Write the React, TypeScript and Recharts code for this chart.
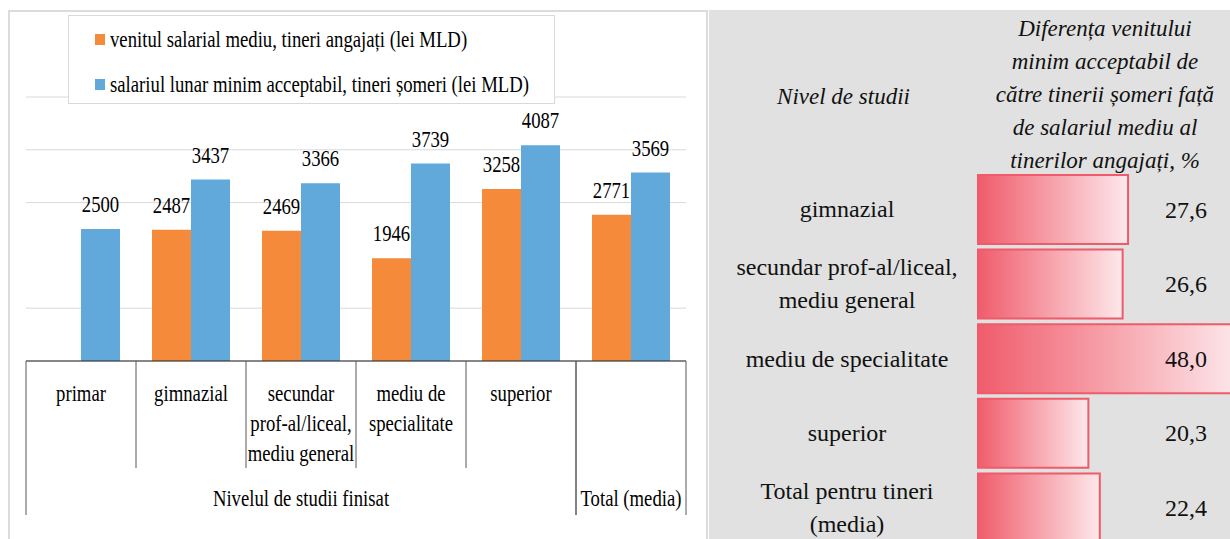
import { BarChart, Bar, XAxis, YAxis, CartesianGrid, LabelList } from "recharts";

// nivelurile de studii (grafic stanga) + cele doua serii
const LEVELS = ["primar", "gimnazial", "secundar\nprof-al/liceal,\nmediu general", "mediu de\nspecialitate", "superior", ""];
const EMPLOYED: (number | null)[] = [null, 2487, 2469, 1946, 3258, 2771];
const UNEMPLOYED = [2500, 3437, 3366, 3739, 4087, 3569];
const Y_TICKS = [0, 1000, 3000, 4000, 5000];
const SERIES_NAMES = [
  "venitul salarial mediu, tineri angajați (lei MLD)",
  "salariul lunar minim acceptabil, tineri șomeri (lei MLD)",
];
const GROUPS = [
  { label: "Nivelul de studii finisat", from: 0, to: 4 },
  { label: "Total (media)", from: 5, to: 5 },
];

// tabelul din dreapta
const GAP_LEVELS = [
  "gimnazial",
  "secundar prof-al/liceal,\nmediu general",
  "mediu de specialitate",
  "superior",
  "Total pentru tineri\n(media)",
];
const GAP_PCT = [27.6, 26.6, 48.0, 20.3, 22.4];
const HEAD_LEFT = "Nivel de studii";
const HEAD_RIGHT = [
  "Diferența venitului",
  "minim acceptabil de",
  "către tinerii șomeri față",
  "de salariul mediu al",
  "tinerilor angajați, %",
];

const ORANGE = "#F48A3A";
const BLUE = "#62A9DB";
const BAR_RED = "#EF5B6A";
const SERIF = "Liberation Serif, DejaVu Serif, serif";
const SQUEEZE = 0.78;

const salaryData = LEVELS.map((level, i) => ({
  level,
  employed: EMPLOYED[i],
  unemployed: UNEMPLOYED[i],
}));
const gapData = GAP_LEVELS.map((level, i) => ({ level, pct: GAP_PCT[i] }));

// dimensiuni grafic stanga
const L_W = 700;
const L_H = 539;
const L_M = { top: 97, right: 14, bottom: 0, left: 26 };
const X_AXIS_H = 178;
const BAND = (L_W - L_M.left - L_M.right) / LEVELS.length;
const AXIS_Y = L_H - X_AXIS_H;

// dimensiuni tabel dreapta
const R_LEFT = 709;
const R_W = 530;
const R_H = 535;
const R_AXIS_W = 269;
const LABEL_CX = 138;
const VALUE_RIGHT = 498;

function NarrowText({ x, y, children, size = 24 }: { x: number; y: number; children: React.ReactNode; size?: number }) {
  return (
    <text
      transform={`translate(${x} ${y}) scale(${SQUEEZE} 1)`}
      textAnchor="middle"
      style={{ fontFamily: SERIF }}
      fontSize={size}
      fill="#000"
    >
      {children}
    </text>
  );
}

function SalaryLabel(props: any) {
  const { x, y, width, value } = props;
  if (value == null) return null;
  return <NarrowText x={x + width / 2} y={y - 17}>{value}</NarrowText>;
}

function LevelTick(props: any) {
  const { x, payload } = props;
  const i = LEVELS.indexOf(payload.value);
  const lines = String(payload.value).split("\n");
  const left = x - BAND / 2;
  const start = GROUPS.find((g) => g.from === i);
  const end = GROUPS.find((g) => g.to === i);
  const lineColor = "#595959";
  return (
    <g>
      <line x1={left} x2={left} y1={AXIS_Y} y2={AXIS_Y + (start ? 154 : 107)} stroke={lineColor} />
      {end && (
        <line x1={left + BAND} x2={left + BAND} y1={AXIS_Y} y2={AXIS_Y + 154} stroke={lineColor} />
      )}
      {lines.map((ln, k) => (
        <NarrowText key={k} x={x} y={AXIS_Y + 40 + k * 30}>{ln}</NarrowText>
      ))}
      {start && (
        <NarrowText x={left + ((start.to - start.from + 1) * BAND) / 2} y={AXIS_Y + 145}>
          {start.label}
        </NarrowText>
      )}
    </g>
  );
}

function GapTick(props: any) {
  const { y, payload } = props;
  const lines = String(payload.value).split("\n");
  return (
    <text textAnchor="middle" style={{ fontFamily: SERIF }} fontSize={24} fill="#111">
      {lines.map((ln, k) => (
        <tspan key={k} x={LABEL_CX} y={y + 8 + (k - (lines.length - 1) / 2) * 33}>{ln}</tspan>
      ))}
    </text>
  );
}

function GapValue(props: any) {
  const { y, height, value } = props;
  return (
    <text x={VALUE_RIGHT} y={y + height / 2 + 8} textAnchor="end" style={{ fontFamily: SERIF }} fontSize={24} fill="#111">
      {Number(value).toFixed(1).replace(".", ",")}
    </text>
  );
}

function LegendBox() {
  const colors = [ORANGE, BLUE];
  return (
    <div style={{
      position: "absolute", left: 68, top: 15, width: 487, height: 89,
      background: "#fff", border: "1px solid #D9D9D9", boxSizing: "border-box",
    }}>
      {SERIES_NAMES.map((name, i) => (
        <div key={name} style={{
          position: "absolute", left: 26, top: 11 + i * 45, height: 24,
          display: "flex", alignItems: "center", whiteSpace: "nowrap",
        }}>
          <span style={{ width: 10, height: 11, background: colors[i], display: "inline-block", marginRight: 5 }} />
          <span style={{
            fontFamily: SERIF, fontSize: 24, color: "#000", display: "inline-block",
            transform: `scaleX(${SQUEEZE})`, transformOrigin: "left center",
          }}>
            {name}
          </span>
        </div>
      ))}
    </div>
  );
}

export default function App() {
  return (
    <div style={{
      position: "fixed", left: 0, top: 0, width: 1230, height: 539,
      overflow: "hidden", background: "#fff", fontFamily: SERIF,
    }}>
      {/* chenarul graficului */}
      <div style={{
        position: "absolute", left: 8, top: 10, width: 700, height: 540,
        border: "2px solid #DCDCDC", boxSizing: "border-box",
      }} />

      <div style={{ position: "absolute", left: 0, top: 0 }}>
        <BarChart
          width={L_W}
          height={L_H}
          data={salaryData}
          margin={L_M}
          barCategoryGap={16}
          barGap={0}
          style={{ fontFamily: SERIF }}
        >
          <CartesianGrid stroke="#D9D9D9" vertical={false} />
          <YAxis hide domain={[0, 5000]} ticks={Y_TICKS} />
          <XAxis
            dataKey="level"
            height={X_AXIS_H}
            interval={0}
            tickLine={false}
            axisLine={{ stroke: "#222" }}
            tick={<LevelTick />}
          />
          <Bar dataKey="employed" fill={ORANGE} isAnimationActive={false}>
            <LabelList dataKey="employed" content={<SalaryLabel />} />
          </Bar>
          <Bar dataKey="unemployed" fill={BLUE} isAnimationActive={false}>
            <LabelList dataKey="unemployed" content={<SalaryLabel />} />
          </Bar>
        </BarChart>
      </div>

      <LegendBox />

      {/* tabelul cu bare de date */}
      <div style={{
        position: "absolute", left: R_LEFT, top: 10, width: 1230 - R_LEFT, height: 529,
        background: "#E0E1E0",
      }} />

      <div style={{
        position: "absolute", left: R_LEFT, top: 79.5, width: R_AXIS_W, textAlign: "center",
        fontFamily: SERIF, fontStyle: "italic", fontSize: 23, lineHeight: "33px", color: "#111",
      }}>
        {HEAD_LEFT}
      </div>
      <div style={{
        position: "absolute", left: 977, top: 11.5, width: 256, textAlign: "center",
        fontFamily: SERIF, fontStyle: "italic", fontSize: 23, lineHeight: "33px", color: "#111",
        whiteSpace: "nowrap",
      }}>
        {HEAD_RIGHT.map((ln) => <div key={ln}>{ln}</div>)}
      </div>

      <div style={{ position: "absolute", left: R_LEFT, top: 10 }}>
        <BarChart
          width={R_W}
          height={R_H}
          data={gapData}
          layout="vertical"
          margin={{ top: 162, right: 0, bottom: 0, left: 0 }}
          barCategoryGap={3}
          style={{ fontFamily: SERIF }}
        >
          <defs>
            <linearGradient id="dataBarGrad" x1="0" y1="0" x2="1" y2="0">
              <stop offset="0%" stopColor="#F05C6B" />
              <stop offset="100%" stopColor="#FDE8EB" />
            </linearGradient>
          </defs>
          <XAxis type="number" domain={[0, 48]} hide />
          <YAxis
            type="category"
            dataKey="level"
            width={R_AXIS_W}
            interval={0}
            axisLine={false}
            tickLine={false}
            tick={<GapTick />}
          />
          <Bar
            dataKey="pct"
            fill="url(#dataBarGrad)"
            stroke={BAR_RED}
            strokeWidth={2}
            isAnimationActive={false}
          >
            <LabelList dataKey="pct" content={<GapValue />} />
          </Bar>
        </BarChart>
      </div>
    </div>
  );
}
